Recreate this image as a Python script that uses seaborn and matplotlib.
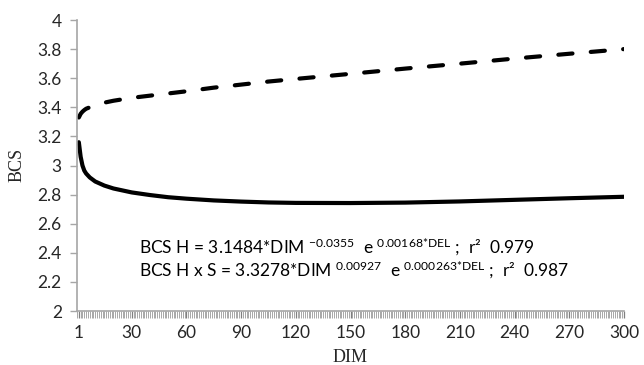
import matplotlib
matplotlib.use("Agg")
import matplotlib.pyplot as plt
from matplotlib.ticker import MultipleLocator
import pandas as pd
import seaborn as sns

# values
dim = [1, 2, 3, 4, 5, 7, 10, 15, 20, 30, 40, 50, 60, 75, 90, 105, 120, 150, 180, 210, 240, 270, 300]
bcs_h = [3.16, 3.06, 3.0, 2.965, 2.945, 2.918, 2.89, 2.862, 2.842, 2.815, 2.797, 2.782, 2.772, 2.76,
         2.752, 2.746, 2.743, 2.742, 2.745, 2.753, 2.764, 2.775, 2.785]
bcs_hxs = [3.33, 3.355, 3.37, 3.381, 3.39, 3.40, 3.415, 3.432, 3.445, 3.465, 3.48, 3.495, 3.51, 3.535,
           3.556, 3.577, 3.595, 3.63, 3.666, 3.70, 3.735, 3.768, 3.80]
x_ticks = [1, 30, 60, 90, 120, 150, 180, 210, 240, 270, 300]
y_ticks = [2, 2.2, 2.4, 2.6, 2.8, 3, 3.2, 3.4, 3.6, 3.8, 4]
eq_h = "BCS H = 3.1484*DIM $^{\\mathrm{-0.0355}}$  e $^{\\mathrm{0.00168{*}DEL}}$ ;  r\u00b2  0.979"
eq_hxs = "BCS H x S = 3.3278*DIM $^{\\mathrm{0.00927}}$  e $^{\\mathrm{0.000263{*}DEL}}$ ;  r\u00b2  0.987"

df = pd.DataFrame({"DIM": dim, "H": bcs_h, "HxS": bcs_hxs})

sns.set_style("ticks")
plt.rcParams["font.family"] = ["Lato", "DejaVu Sans"]
plt.rcParams["mathtext.fontset"] = "custom"
plt.rcParams["mathtext.rm"] = "Lato"
plt.rcParams["mathtext.it"] = "Lato"

fig = plt.figure(figsize=(6.44, 3.65), dpi=100)
ax = fig.add_axes([77 / 644, 1 - 311 / 365, 547 / 644, 291 / 365])

sns.lineplot(data=df, x="DIM", y="H", ax=ax, color="black", lw=3.0)
sns.lineplot(data=df, x="DIM", y="HxS", ax=ax, color="black", lw=3.0)
dash_line = ax.lines[1]
dash_line.set_linestyle((0, (3.4, 4.4)))
dash_line.set_dash_capstyle("round")

ax.set_xlim(0, 300)
ax.set_ylim(2, 4)
ax.set_xticks(x_ticks)
ax.set_xticklabels([str(t) for t in x_ticks])
ax.xaxis.set_minor_locator(MultipleLocator(1))
ax.set_yticks(y_ticks)
ax.set_yticklabels(["{:g}".format(t) for t in y_ticks])

sns.despine(ax=ax)
for s in ["left", "bottom"]:
    ax.spines[s].set_color("#a6a6a6")
    ax.spines[s].set_linewidth(1.2)
ax.tick_params(axis="y", length=5, width=1, color="#a6a6a6", pad=6, labelsize=12.5, labelcolor="#262626")
ax.tick_params(axis="x", which="major", length=5, width=0.9, color="#7f7f7f", pad=5, labelsize=12.5,
               labelcolor="#262626")
ax.tick_params(axis="x", which="minor", length=5, width=0.6, color="#999999")

ax.set_xlabel("")
ax.set_ylabel("")
fig.text(17 / 644, 1 - 165 / 365, "BCS", rotation=90, ha="center", va="center",
         family="Liberation Serif", fontsize=13)
fig.text(350 / 644, 1 - 357 / 365, "DIM", ha="center", va="center",
         family="Liberation Serif", fontsize=13)

ax.text(0.113, 0.198, eq_h, transform=ax.transAxes, fontsize=12.5, va="baseline", color="black")
ax.text(0.113, 0.118, eq_hxs, transform=ax.transAxes, fontsize=12.5, va="baseline", color="black")

fig.savefig("out.png", dpi=100)
